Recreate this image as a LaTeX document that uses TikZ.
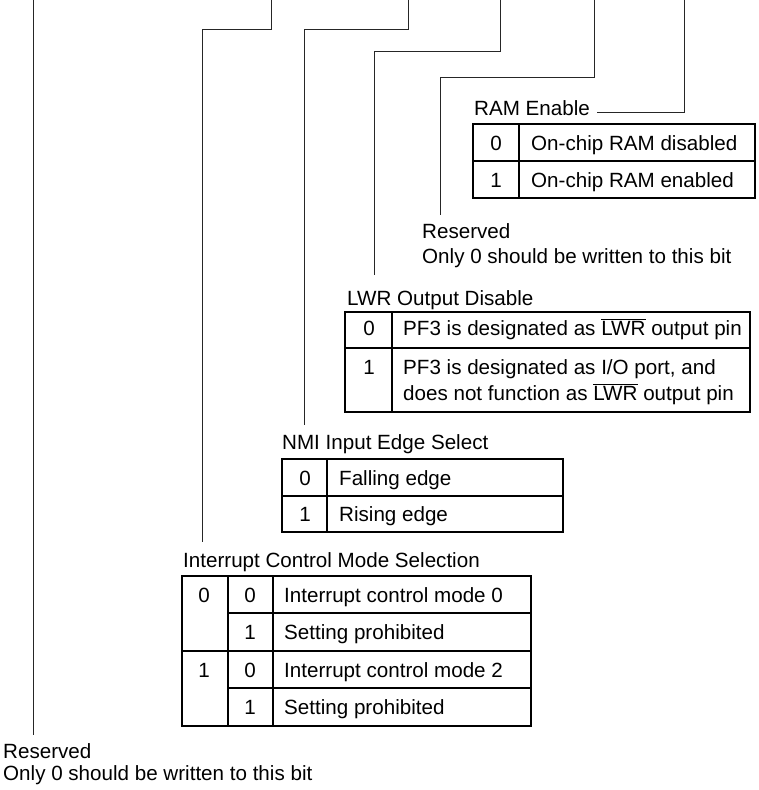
\documentclass[tikz,border=0pt]{standalone}
\usepackage{fontspec}
\setmainfont{Liberation Sans}
\newcommand{\activelow}[1]{$\overline{\mbox{#1}}$}
\begin{document}
\begin{tikzpicture}[x=1pt,y=-1pt,
  wire/.style={line width=1pt, black!85},
  grid/.style={line width=1.2pt, black},
  txt/.style={anchor=base west, inner sep=0pt, font=\fontsize{20.6}{25}\selectfont},
  dig/.style={anchor=base, inner sep=0pt, font=\fontsize{20.6}{25}\selectfont}]
\useasboundingbox (0,0) rectangle (758,790);

% bit positions along the top edge
\coordinate (b7) at (33,0);
\coordinate (b6) at (271,0);
\coordinate (b5) at (408,0);
\coordinate (b4) at (500,0);
\coordinate (b3) at (594,0);
\coordinate (b2) at (684,0);

% lower ends of the leader lines
\coordinate (e7) at (33,735);
\coordinate (e6) at (202,542);
\coordinate (e5) at (304,425);
\coordinate (e4) at (374,275);
\coordinate (e3) at (440,215);
\coordinate (e2) at (597,112);

% ---- RAM Enable ----
\node[txt] (ramlbl) at (474,115) {RAM Enable};
\draw[grid] (473,124) rectangle (755,198);
\draw[grid] (473,161) -- (755,161);
\draw[grid] (519,124) -- (519,198);
\node[dig] (ram0) at (496,150) {0};
\node[txt] (ram0t) at (531,150) {On-chip RAM disabled};
\node[dig] (ram1) at (496,187) {1};
\node[txt] (ram1t) at (531,187) {On-chip RAM enabled};

% ---- Reserved (upper) ----
\node[txt] (res1) at (422,238) {Reserved};
\node[txt] (res1b) at (422,263) {Only 0 should be written to this bit};

% ---- LWR Output Disable ----
\node[txt] (lwrlbl) at (347,305) {LWR Output Disable};
\draw[grid] (345,312) rectangle (750,412);
\draw[grid] (345,348) -- (750,348);
\draw[grid] (392,312) -- (392,412);
\node[dig] (lwr0) at (369,335) {0};
\node[txt] (lwr0t) at (403,335) {PF3 is designated as \activelow{LWR} output pin};
\node[dig] (lwr1) at (369,374) {1};
\node[txt] (lwr1t) at (403,374) {PF3 is designated as I/O port, and};
\node[txt] (lwr1u) at (403,400) {does not function as \activelow{LWR} output pin};

% ---- NMI Input Edge Select ----
\node[txt] (nmilbl) at (282,449) {NMI Input Edge Select};
\draw[grid] (282,459) rectangle (563,532);
\draw[grid] (282,496) -- (563,496);
\draw[grid] (327,459) -- (327,532);
\node[dig] (nmi0) at (305,485) {0};
\node[txt] (nmi0t) at (339,485) {Falling edge};
\node[dig] (nmi1) at (305,521) {1};
\node[txt] (nmi1t) at (339,521) {Rising edge};

% ---- Interrupt Control Mode Selection ----
\node[txt] (icmlbl) at (183,567) {Interrupt Control Mode Selection};
\draw[grid] (182,576) rectangle (531,726);
\draw[grid] (228,576) -- (228,726);
\draw[grid] (273,576) -- (273,726);
\draw[grid] (228,613) -- (531,613);
\draw[grid] (182,651) -- (531,651);
\draw[grid] (228,688) -- (531,688);
\node[dig] (icma) at (204,602) {0};
\node[dig] (icmb) at (204,677) {1};
\node[dig] (icm00) at (250,602) {0};
\node[txt] (icm00t) at (284,602) {Interrupt control mode 0};
\node[dig] (icm01) at (250,639) {1};
\node[txt] (icm01t) at (284,639) {Setting prohibited};
\node[dig] (icm10) at (250,677) {0};
\node[txt] (icm10t) at (284,677) {Interrupt control mode 2};
\node[dig] (icm11) at (250,714) {1};
\node[txt] (icm11t) at (284,714) {Setting prohibited};

% ---- Reserved (lower) ----
\node[txt] (res7) at (3,758) {Reserved};
\node[txt] (res7b) at (3,780) {Only 0 should be written to this bit};

% ---- leader lines ----
\draw[wire] (b7) -- (e7);
\draw[wire] (b6) -- ++(0,29) -| (e6);
\draw[wire] (b5) -- ++(0,29) -| (e5);
\draw[wire] (b4) -- ++(0,51) -| (e4);
\draw[wire] (b3) -- ++(0,77) -| (e3);
\draw[wire] (b2) |- (e2);
\end{tikzpicture}
\end{document}
